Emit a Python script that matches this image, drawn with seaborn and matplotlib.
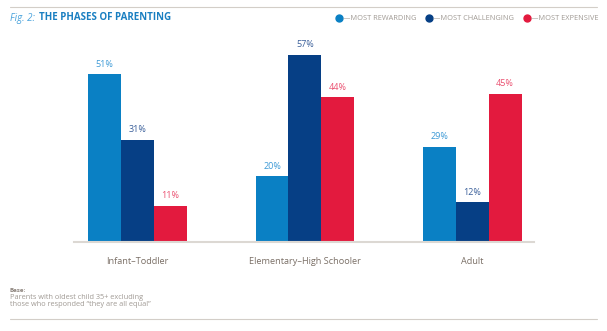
import matplotlib
matplotlib.use("Agg")
import matplotlib.pyplot as plt
from matplotlib.lines import Line2D
import seaborn as sns
import pandas as pd

# Chart data
phases = ["Infant–Toddler", "Elementary–High Schooler", "Adult"]
series = ["MOST REWARDING", "MOST CHALLENGING", "MOST EXPENSIVE"]
rewarding = [51, 20, 29]
challenging = [31, 57, 12]
expensive = [11, 44, 45]

bar_colors = ["#0a80c4", "#063f85", "#e31a3e"]
label_colors = ["#3d9ad6", "#3a5f9a", "#ea5070"]

rows = []
for name, vals in zip(series, [rewarding, challenging, expensive]):
    for ph, v in zip(phases, vals):
        rows.append({"phase": ph, "series": name, "pct": v})
df = pd.DataFrame(rows)

sns.set_theme(style="white")
plt.rcParams["font.family"] = ["Open Sans", "DejaVu Sans"]

fig = plt.figure(figsize=(6.07, 3.31), dpi=100)
ax = fig.add_axes([0.122, 0.269, 0.758, 0.616])

sns.barplot(data=df, x="phase", y="pct", hue="series", order=phases,
            hue_order=series, palette=bar_colors, width=0.59, gap=0,
            saturation=1, linewidth=0, legend=False, ax=ax)

for cont, col in zip(ax.containers, label_colors):
    ax.bar_label(cont, labels=[f"{int(v)}%" for v in cont.datavalues],
                 padding=4, fontsize=6.5, color=col)

ax.set_xlim(-0.38, 2.37)
ax.set_ylim(0, 62)
ax.set_xlabel("")
ax.set_ylabel("")
ax.set_yticks([])
for s in ["top", "right", "left"]:
    ax.spines[s].set_visible(False)
ax.spines["bottom"].set_color("#dcd8d3")
ax.spines["bottom"].set_linewidth(1.5)
ax.tick_params(axis="x", length=0, pad=11, labelsize=6.6, labelcolor="#7a6f66")

# Header rule and title
fig.add_artist(Line2D([10 / 607, 597 / 607], [1 - 7 / 331, 1 - 7 / 331],
                      color="#d3cec8", lw=0.8))
fig.text(10 / 607, 1 - 18 / 331, "Fig. 2:", fontsize=7, color="#4aa3dc",
         style="italic", va="center", ha="left")
fig.text(39 / 607, 1 - 18 / 331, "THE PHASES OF PARENTING", fontsize=7,
         color="#1a7fc1", fontweight="bold", va="center", ha="left")

# Legend
legend_x = [339, 429, 527]
for x, name, col in zip(legend_x, series, bar_colors):
    fig.add_artist(Line2D([x / 607], [1 - 18 / 331], marker="o", markersize=5,
                          color=col, linestyle="none"))
    fig.text((x + 4) / 607, 1 - 18.5 / 331, "—" + name, fontsize=5.3,
             color="#a09a94", va="center", ha="left")

# Footnote and bottom rule
fig.text(10 / 607, 1 - 290 / 331, "Base:", fontsize=4.4, color="#8a817a",
         fontweight="bold", va="center", ha="left")
fig.text(10 / 607, 1 - 301 / 331,
         "Parents with oldest child 35+ excluding\nthose who responded \u201cthey are all equal\u201d",
         fontsize=5.3, color="#a09a94", va="center", ha="left", linespacing=0.95)
fig.add_artist(Line2D([10 / 607, 597 / 607], [1 - 319 / 331, 1 - 319 / 331],
                      color="#d3cec8", lw=0.8))

fig.savefig("out.png", dpi=100)
